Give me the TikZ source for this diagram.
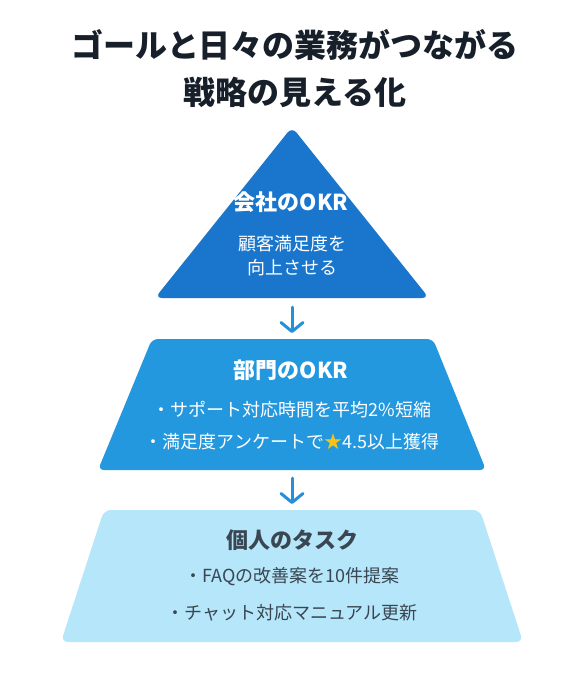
\documentclass[tikz,border=0pt]{standalone}
\usepackage{fontspec}
\newfontfamily\jp{Noto Sans CJK JP}
\usetikzlibrary{arrows.meta}
\definecolor{titlec}{HTML}{17202A}
\definecolor{tric}{HTML}{1976CC}
\definecolor{midc}{HTML}{2398DE}
\definecolor{lowc}{HTML}{B5E6FA}
\definecolor{arrc}{HTML}{2490DA}
\definecolor{darkc}{HTML}{3A4651}
\definecolor{starc}{HTML}{F7C21A}
\tikzset{
  head/.style={font=\jp\bfseries\fontsize{22}{26}\selectfont, anchor=center},
  body/.style={font=\jp\fontsize{18}{22}\selectfont, anchor=center},
  flowarrow/.style={draw=arrc, line width=3pt, line cap=round, -{Straight Barb[length=9pt,width=22pt,round]}},
}
\begin{document}
\begin{tikzpicture}[x=1pt,y=-1pt]
\useasboundingbox (0,0) rectangle (586,673);
\fill[white] (0,0) rectangle (586,673);
% title
\node[font=\jp\bfseries\fontsize{32}{47}\selectfont, text=titlec, align=center] (title) at (295,68.5) {ゴールと日々の業務がつながる\\戦略の見える化};
% shapes
\fill[tric, rounded corners=7pt] (292,127) -- (429,298) -- (155,298) -- cycle;
\fill[midc, rounded corners=6pt] (152,339) -- (433,339) -- (486,470) -- (98,470) -- cycle;
\fill[lowc, rounded corners=7pt] (104,510) -- (480,510) -- (523,642) -- (61,642) -- cycle;
% texts
\node[head, text=white] (t1) at (291,202) {会社のOKR};
\node[body, text=white] (t2) at (292,244) {顧客満足度を};
\node[body, text=white] (t3) at (292,268) {向上させる};
\node[head, text=white] (m1) at (291,370) {部門のOKR};
\node[body, text=white] (m2) at (292,410) {・サポート対応時間を平均2\%短縮};
\node[body, text=white] (m3) at (292,442) {・満足度アンケートで{\color{starc}★}4.5以上獲得};
\node[head, text=darkc] (b1) at (292,540) {個人のタスク};
\node[body, text=darkc] (b2) at (292,577) {・FAQの改善案を10件提案};
\node[body, text=darkc] (b3) at (292,613) {・チャット対応マニュアル更新};
% arrows
\coordinate (a1s) at (292,307);
\coordinate (a1e) at (292,333);
\coordinate (a2s) at (292,478);
\coordinate (a2e) at (292,504);
\draw[flowarrow] (a1s) -- (a1e);
\draw[flowarrow] (a2s) -- (a2e);
\end{tikzpicture}
\end{document}
